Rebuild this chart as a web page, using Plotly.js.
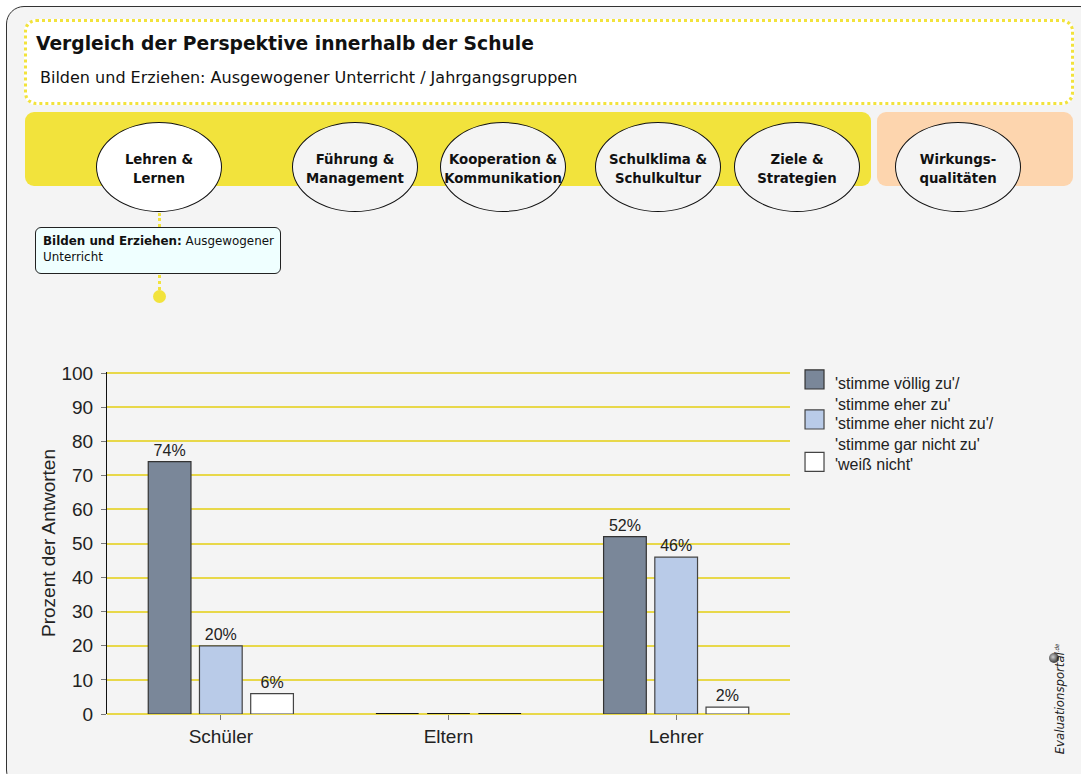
<!DOCTYPE html>
<html>
<head>
<meta charset="utf-8">
<script src="https://cdn.plot.ly/plotly-3.0.1.min.js"></script>
<style>
  html, body { margin:0; padding:0; background:#fff; }
  #page { position:relative; width:1081px; height:774px; overflow:hidden; font-family:"DejaVu Sans", sans-serif; }
  #frame { position:absolute; left:6px; top:6px; width:1090px; height:780px; border:1.5px solid #333; border-radius:18px; background:#f4f4f4; }
  #head { position:absolute; left:24px; top:19px; width:1044px; height:80px; border:3px dotted #f2e33c; border-radius:12px; background:#fff; }
  #head h1 { position:absolute; left:9px; top:11px; margin:0; font-size:18.7px; font-weight:bold; color:#111; white-space:nowrap; }
  #head .sub { position:absolute; left:13px; top:46px; font-size:16px; color:#111; white-space:nowrap; }
  .band { position:absolute; top:112px; height:74px; border-radius:9px; }
  .ell { position:absolute; top:122px; width:124px; border:1.5px solid #111; border-radius:50%; background:#f4f4f4;
         display:flex; align-items:center; justify-content:center; text-align:center; font-weight:bold; font-size:13.3px; line-height:19px; color:#111; padding-top:4px; box-sizing:content-box; height:84px; }
  #info { position:absolute; left:35px; top:227px; width:237px; height:35px; padding:5px 0 5px 7px; border:1px solid #222; border-radius:6px; background:#efffff;
          font-size:11.9px; line-height:16px; color:#111; white-space:nowrap; }
  .dots { position:absolute; left:158px; border-left:3px dotted #f2e33c; }
  #pin { position:absolute; left:153px; top:290px; width:13px; height:13px; border-radius:50%; background:#f2e33c; }
  #logo { position:absolute; left:997px; top:691px; width:120px; height:16px; line-height:16px; transform:rotate(-90deg); font-family:"DejaVu Sans Condensed","DejaVu Sans",sans-serif;
          font-size:13px; font-style:italic; color:#222; text-align:center; white-space:nowrap; }
  #logo sup { font-size:6px; }
  #globe { position:absolute; left:1049px; top:653px; width:10px; height:10px; border-radius:50%; background:radial-gradient(circle at 40% 40%, #ccc 0, #555 55%, #222 100%); }
  #chart { position:absolute; left:0; top:0; width:1081px; height:774px; }
</style>
</head>
<body>
<div id="page">
  <div id="frame"></div>
  <div id="head">
    <h1>Vergleich der Perspektive innerhalb der Schule</h1>
    <div class="sub">Bilden und Erziehen: Ausgewogener Unterricht / Jahrgangsgruppen</div>
  </div>
  <div class="band" style="left:25px;width:846px;background:#f2e33c"></div>
  <div class="band" style="left:877px;width:196px;background:#fdd5ae"></div>
  <div class="ell" style="left:96px;background:#fff">Lehren &amp;<br>Lernen</div>
  <div class="ell" style="left:292px">Führung &amp;<br>Management</div>
  <div class="ell" style="left:440px">Kooperation &amp;<br>Kommunikation</div>
  <div class="ell" style="left:595px">Schulklima &amp;<br>Schulkultur</div>
  <div class="ell" style="left:734px">Ziele &amp;<br>Strategien</div>
  <div class="ell" style="left:895px">Wirkungs-<br>qualitäten</div>
  <div class="dots" style="top:213px;height:14px"></div>
  <div id="info"><b>Bilden und Erziehen:</b> Ausgewogener<br>Unterricht</div>
  <div class="dots" style="top:275px;height:15px"></div>
  <div id="pin"></div>
  <div id="globe"></div>
  <div id="logo">Evaluationsportal<sup>.de</sup></div>
  <div id="chart"></div>
</div>
<script>
// Werte aus der Grafik (Prozent)
const gruppen = ['Schüler', 'Eltern', 'Lehrer'];
const zustimmung = [74, 0, 52];
const ablehnung = [20, 0, 46];
const weissNicht = [6, 0, 2];
const serienNamen = [
  "'stimme völlig zu'/<br>'stimme eher zu'",
  "'stimme eher nicht zu'/<br>'stimme gar nicht zu'",
  "'weiß nicht'"
];
const yTicks = [0, 10, 20, 30, 40, 50, 60, 70, 80, 90, 100];

const farben = ['#7a8799', '#b9cbe8', '#ffffff'];
const linien = ['#333333', '#444444', '#444444'];

function serie(werte, i){
  return {
    x: gruppen,
    y: werte,
    name: serienNamen[i],
    type: 'bar',
    marker: {
      color: farben[i],
      // Nullwerte als kraeftige Linie sichtbar lassen
      line: {color: werte.map(v => v > 0 ? linien[i] : '#111'), width: werte.map(v => v > 0 ? 1.2 : 2.2)}
    },
    text: werte.map(v => v > 0 ? v + '%' : ''),
    textposition: 'outside',
    constraintext: 'none',
    cliponaxis: false,
    textfont: {size: 16, color: '#222'},
    hoverinfo: 'skip',
    showlegend: false
  };
}

const data = [serie(zustimmung, 0), serie(ablehnung, 1), serie(weissNicht, 2)];

// eigene Legende (grosse Quadrate)
const legY = [1.006, 0.889, 0.765];   // obere Kante der Quadrate
const legTextY = [0.936, 0.818, 0.730];
const shapes = [];
const annotations = [];
serienNamen.forEach((name, i) => {
  shapes.push({
    type: 'rect', xref: 'paper', yref: 'paper',
    x0: 1.022, x1: 1.0498, y0: legY[i], y1: legY[i] - 0.0557,
    fillcolor: farben[i], line: {color: linien[i], width: 1.2}
  });
  annotations.push({
    xref: 'paper', yref: 'paper', x: 1.0635, y: legTextY[i],
    xanchor: 'left', yanchor: 'middle', align: 'left', showarrow: false,
    text: name, font: {size: 16, color: '#222'}
  });
});

const layout = {
  width: 1081, height: 774,
  margin: {l: 107, r: 291, t: 372, b: 60},
  paper_bgcolor: 'rgba(0,0,0,0)',
  plot_bgcolor: 'rgba(0,0,0,0)',
  font: {family: '"Liberation Sans", Arial, sans-serif', color: '#222'},
  barmode: 'group',
  bargap: 0.325,
  bargroupgap: 0.166,
  showlegend: false,
  shapes: shapes,
  annotations: annotations,
  xaxis: {
    showline: false, showgrid: false, zeroline: false,
    ticks: 'outside', ticklen: 5, tickcolor: '#777',
    tickfont: {size: 19, color: '#222'}, fixedrange: true
  },
  yaxis: {
    range: [0, 100.3], tickvals: yTicks,
    showline: true, linecolor: '#111', linewidth: 1,
    showgrid: true, gridcolor: '#e8d84a', gridwidth: 2,
    zeroline: true, zerolinecolor: '#e8d84a', zerolinewidth: 2,
    ticks: 'outside', ticklen: 5, tickcolor: '#777', ticklabelstandoff: 4,
    tickfont: {size: 19, color: '#222'},
    title: {text: 'Prozent der Antworten', font: {size: 19, color: '#222'}, standoff: 0},
    fixedrange: true
  }
};

Plotly.newPlot('chart', data, layout, {displayModeBar: false, staticPlot: true});
</script>
</body>
</html>
